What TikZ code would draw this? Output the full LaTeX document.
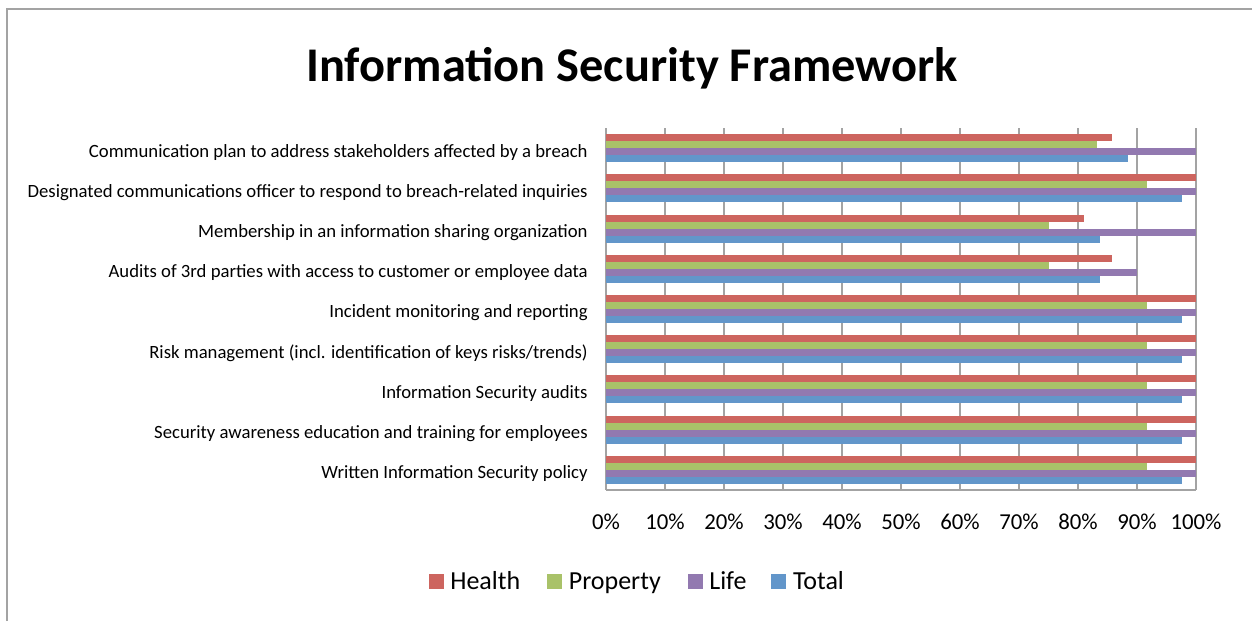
\documentclass[tikz,border=0pt]{standalone}
\usepackage{fontspec}
\setmainfont{Carlito}
\usetikzlibrary{positioning}

\definecolor{health}{HTML}{CD655F}
\definecolor{property}{HTML}{A9C269}
\definecolor{life}{HTML}{9279B0}
\definecolor{total}{HTML}{6296CA}
\definecolor{gridgray}{HTML}{A3A3A3}

\tikzset{
  catlabel/.style={anchor=east, inner sep=0pt, font=\fontsize{9.35}{11}\selectfont},
  ticklabel/.style={inner sep=0pt, font=\fontsize{11.4}{13}\selectfont},
  legbox/.style={minimum size=7.5pt, inner sep=0pt},
  legtext/.style={inner sep=0pt, text height=0.8em, text depth=0pt, font=\fontsize{13}{15}\selectfont},
  gridline/.style={draw=gridgray, line width=0.9pt},
}

\begin{document}
\begin{tikzpicture}[x=0.5pt,y=-0.5pt,node distance=3pt]
  \useasboundingbox (0,0) rectangle (1252,621);
  % frame of the chart
  \draw[gridgray, line width=1pt] (7,621) -- (7,9) -- (1252,9);

  \node[font=\fontsize{24.2}{28}\selectfont\bfseries] (title) at (632,68) {Information Security Framework};

  % grid and axes
  \foreach \k in {0,...,10}
    \draw[gridline] (606+59*\k,128) -- (606+59*\k,490);
  \draw[gridline] (606,490) -- (1196,490);
  \foreach \k in {0,...,10}
    \node[ticklabel] (tick\k) at (606+59*\k,522) {\pgfmathparse{int(10*\k)}\pgfmathresult\%};

  % bars: health, property, life, total
  \foreach \i/\h/\p/\l/\t/\name in {
      0/85.7/83.3/100/88.4/{Communication plan to address stakeholders affected by a breach},
      1/100/91.7/100/97.7/{Designated communications officer to respond to breach-related inquiries},
      2/81/75/100/83.7/{Membership in an information sharing organization},
      3/85.7/75/90/83.7/{Audits of 3rd parties with access to customer or employee data},
      4/100/91.7/100/97.7/{Incident monitoring and reporting},
      5/100/91.7/100/97.7/{Risk management (incl. identification of keys risks/trends)},
      6/100/91.7/100/97.7/{Information Security audits},
      7/100/91.7/100/97.7/{Security awareness education and training for employees},
      8/100/91.7/100/97.7/{Written Information Security policy}}{
    \pgfmathsetmacro{\c}{128+40.2*(\i+0.5)}
    \fill[health]   (606,\c-14) rectangle (606+5.9*\h,\c-7);
    \fill[property] (606,\c-7)  rectangle (606+5.9*\p,\c);
    \fill[life]     (606,\c)    rectangle (606+5.9*\l,\c+7);
    \fill[total]    (606,\c+7)  rectangle (606+5.9*\t,\c+14);
    \node[catlabel] (cat\i) at (588,\c+4) {\name};
  }

  % legend
  \node[legbox, fill=health] (legH) at (436,581) {};
  \node[legtext, right=of legH] (legHtext) {Health};
  \node[legbox, fill=property, right=13pt of legHtext] (legP) {};
  \node[legtext, right=of legP] (legPtext) {Property};
  \node[legbox, fill=life, right=13pt of legPtext] (legL) {};
  \node[legtext, right=of legL] (legLtext) {Life};
  \node[legbox, fill=total, right=12pt of legLtext] (legT) {};
  \node[legtext, right=of legT] (legTtext) {Total};
\end{tikzpicture}
\end{document}
